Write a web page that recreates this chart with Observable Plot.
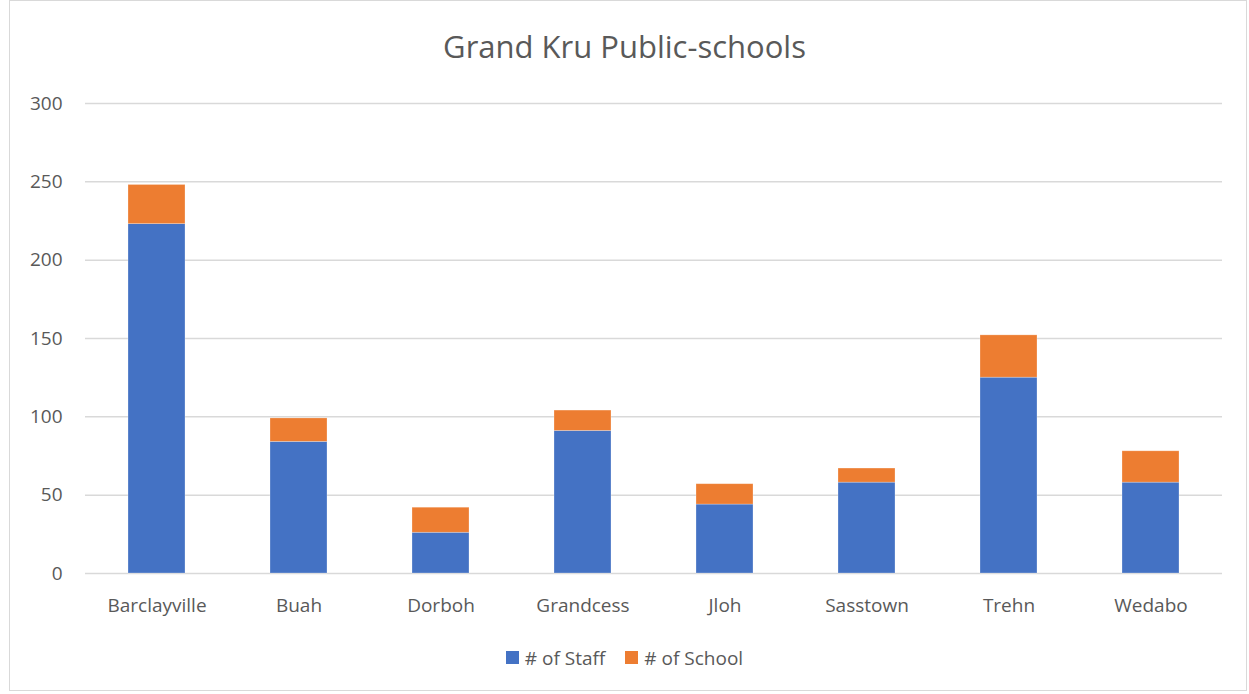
<!DOCTYPE html>
<html>
<head>
<meta charset="utf-8">
<script src="https://cdn.jsdelivr.net/npm/d3@7"></script>
<script src="https://cdn.jsdelivr.net/npm/@observablehq/plot@0.6"></script>
<style>
  body { margin: 0; background: #fff; font-family: "Open Sans", Lato, sans-serif; }
  #frame { position: absolute; left: 9px; top: 0px; width: 1238px; height: 691px; border: 1px solid #d9d9d9; box-sizing: border-box; }
  #title { position: absolute; left: 0; top: 26px; width: 1249px; text-align: center; font-size: 31px; line-height: 40px; color: #595959; }
  #chart { position: absolute; left: 0; top: 80px; }
  #legend { position: absolute; left: 0; top: 644px; width: 1249px; text-align: center; font-size: 19px; line-height: 26px; color: #595959; }
  .item { display: inline-flex; align-items: center; margin: 0 10px; }
  .sw { width: 13px; height: 13px; display: inline-block; margin-right: 6px; }
</style>
</head>
<body>
<div id="frame"></div>
<div id="title">Grand Kru Public-schools</div>
<div id="chart"></div>
<div id="legend"></div>
<script>
const districts = ["Barclayville", "Buah", "Dorboh", "Grandcess", "Jloh", "Sasstown", "Trehn", "Wedabo"];
const staff = [223, 84, 26, 91, 44, 58, 125, 58];
const schools = [25, 15, 16, 13, 13, 9, 27, 20];
const seriesNames = ["# of Staff", "# of School"];
const seriesColors = ["#4472C4", "#ED7D31"];
const yTicks = [0, 50, 100, 150, 200, 250, 300];

const rows = [];
districts.forEach((d, i) => {
  rows.push({district: d, series: seriesNames[0], value: staff[i]});
  rows.push({district: d, series: seriesNames[1], value: schools[i]});
});

const plot = Plot.plot({
  width: 1249,
  height: 555,
  marginTop: 23,
  marginBottom: 62,
  marginLeft: 85,
  marginRight: 27,
  style: {fontFamily: "'Open Sans', Lato, sans-serif", fontSize: "19px", color: "#595959", background: "transparent"},
  x: {domain: districts, paddingInner: 0.6, paddingOuter: 0.3, label: null},
  y: {domain: [0, 300], label: null},
  color: {domain: seriesNames, range: seriesColors},
  marks: [
    Plot.ruleY(yTicks, {stroke: "#d9d9d9", strokeWidth: 1.5}),
    Plot.barY(rows, {x: "district", y: "value", fill: "series", stroke: "#ffffff", strokeOpacity: 0.35, strokeWidth: 0.75}),
    Plot.axisX({tickSize: 0, tickPadding: 25, fill: "#595959", fontSize: 19}),
    Plot.axisY({ticks: yTicks, tickSize: 0, tickPadding: 23, fill: "#595959", fontSize: 19})
  ]
});
document.getElementById("chart").appendChild(plot);

const legend = document.getElementById("legend");
seriesNames.forEach((n, i) => {
  const it = document.createElement("span");
  it.className = "item";
  const sw = document.createElement("span");
  sw.className = "sw";
  sw.style.background = seriesColors[i];
  it.appendChild(sw);
  it.appendChild(document.createTextNode(n));
  legend.appendChild(it);
});
</script>
</body>
</html>
